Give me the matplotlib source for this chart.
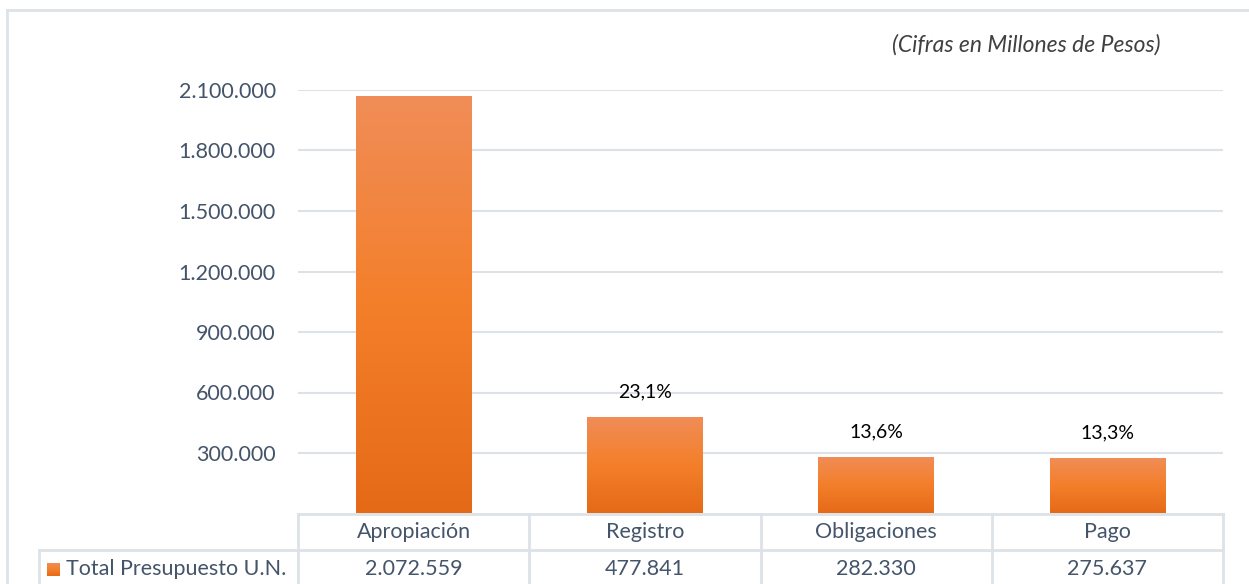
import matplotlib.pyplot as plt
import numpy as np
from matplotlib.colors import LinearSegmentedColormap
from matplotlib.lines import Line2D
from matplotlib.ticker import FuncFormatter

# datos
categorias = ['Apropiación', 'Registro', 'Obligaciones', 'Pago']
valores = [2072559, 477841, 282330, 275637]
porcentajes = ['', '23,1%', '13,6%', '13,3%']
serie = 'Total Presupuesto U.N.'
y_ticks = [300000, 600000, 900000, 1200000, 1500000, 1800000, 2100000]

plt.rcParams['font.family'] = ['Lato', 'DejaVu Sans']
gris_texto = '#44546a'
gris_linea = '#dde2e8'

W, H = 1249, 584
fig = plt.figure(figsize=(W / 100, H / 100), dpi=100)

def fx(px):
    return px / W

def fy(py):
    return 1 - py / H

# marco exterior
fig.add_artist(Line2D([fx(7), fx(7)], [fy(10), fy(590)], color=gris_linea, lw=2))
fig.add_artist(Line2D([fx(7), fx(1260)], [fy(10), fy(10)], color=gris_linea, lw=2))

x0, x1 = 298, 1223
yb, yt = 513.5, 90
ax = fig.add_axes([fx(x0), fy(yb), fx(x1 - x0), (yb - yt) / H])

# degradado de las barras
cmap = LinearSegmentedColormap.from_list('nar', ['#e56a18', '#f47f2a', '#f08d58'])
grad = np.linspace(0, 1, 256).reshape(-1, 1)
bars = ax.bar(range(len(categorias)), valores, width=0.5, color='none', zorder=3)
for b in bars:
    xb, wb, hb = b.get_x(), b.get_width(), b.get_height()
    im = ax.imshow(grad, cmap=cmap, origin='lower', aspect='auto',
                   extent=[xb, xb + wb, 0, hb], zorder=3)
    im.set_clip_path(b)
ax.set_xlim(-0.5, len(categorias) - 0.5)
ax.set_ylim(0, 2100000)

for i, p in enumerate(porcentajes):
    if p:
        ax.annotate(p, (i, valores[i]), xytext=(0, 18), textcoords='offset points',
                    ha='center', va='center', fontsize=14, color='black')

ax.set_yticks(y_ticks)
ax.yaxis.set_major_formatter(FuncFormatter(lambda v, _: f'{int(v):,}'.replace(',', '.')))
ax.tick_params(axis='y', length=0, pad=16, labelsize=15.5, labelcolor=gris_texto)
ax.set_xticks([])
ax.grid(axis='y', color=gris_linea, lw=1.5, zorder=0)
ax.set_axisbelow(True)
for s in ax.spines.values():
    s.set_visible(False)

# tabla de datos
ty0, ty1 = 514, 550
fig.add_artist(Line2D([fx(x0), fx(x1)], [fy(ty0), fy(ty0)], color=gris_linea, lw=2))
fig.add_artist(Line2D([fx(39), fx(x1)], [fy(ty1), fy(ty1)], color=gris_linea, lw=2))
fig.add_artist(Line2D([fx(39), fx(39)], [fy(ty1), fy(600)], color=gris_linea, lw=2))
ancho = (x1 - x0) / len(categorias)
for k in range(len(categorias) + 1):
    xx = x0 + k * ancho
    fig.add_artist(Line2D([fx(xx), fx(xx)], [fy(ty0), fy(600)], color=gris_linea, lw=2))
for k, (c, v) in enumerate(zip(categorias, valores)):
    xc = x0 + (k + 0.5) * ancho
    fig.text(fx(xc), fy(532), c, ha='center', va='center', fontsize=15.5, color=gris_texto)
    fig.text(fx(xc), fy(569), f'{v:,}'.replace(',', '.'), ha='center', va='center',
             fontsize=15.5, color=gris_texto)

# leyenda en la tabla
ax_leg = fig.add_axes([fx(47), fy(576), fx(13), 13 / H])
ax_leg.imshow(grad, cmap=cmap, origin='lower', aspect='auto')
ax_leg.axis('off')
fig.text(fx(66), fy(569), serie, ha='left', va='center', fontsize=15.5, color=gris_texto)

fig.text(fx(1160), fy(45), '(Cifras en Millones de Pesos)', ha='right', va='center',
         fontsize=16.5, style='italic', color='#404040')

fig.savefig('out.png', dpi=100)
